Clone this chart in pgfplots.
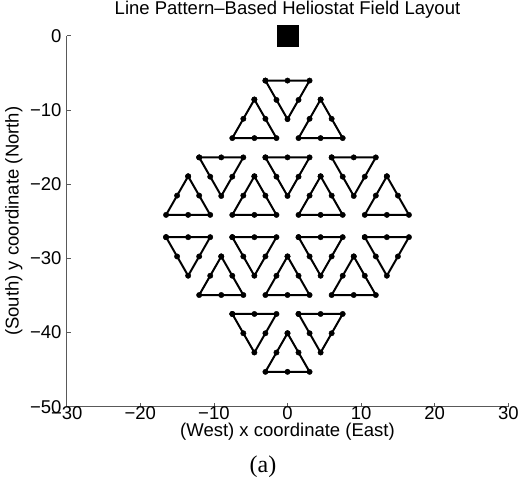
\documentclass[border=0pt]{standalone}
\usepackage{pgfplots}
\pgfplotsset{compat=1.18}
\usepackage{fontspec}
\setmainfont{Liberation Sans}
\newfontfamily\serifa{Liberation Serif}
\newcommand\lbl{\fontsize{18.5}{21}\selectfont}
\begin{document}
\begin{tikzpicture}
\useasboundingbox (-66.7pt,-75.3pt) rectangle (454.3pt,406.7pt);
\begin{axis}[
  scale only axis, width=441.6pt, height=371pt,
  xmin=-30, xmax=30, ymin=-50, ymax=0,
  clip=false,
  axis x line=bottom, axis y line=left,
  axis line style={-, draw=black!65, line width=0.6pt},
  every tick/.style={draw=black!65, line width=0.6pt},
  tick align=inside, major tick length=4pt,
  xtick={-30,-20,-10,0,10,20,30},
  xticklabels={−30,−20,−10,0,10,20,30},
  ytick={-50,-40,-30,-20,-10,0},
  yticklabels={−50,−40,−30,−20,−10,0},
  tick label style={font=\lbl},
  xticklabel style={anchor=base, yshift=-13pt, inner sep=0pt},
  yticklabel style={anchor=east, inner sep=0pt, xshift=-5pt},
  title={Line Pattern–Based Heliostat Field Layout},
  title style={font=\lbl, at={(axis description cs:0.5,1.0404)}, anchor=base, inner sep=0pt},
  xlabel={(West) x coordinate (East)},
  xlabel style={font=\lbl, at={(axis description cs:0.5,-0.0809)}, anchor=base, inner sep=0pt},
  ylabel={(South) y coordinate (North)},
  ylabel style={font=\lbl, at={(axis description cs:-0.0996,0.5)}, anchor=south, inner sep=0pt},
  tri/.style={black, solid, line width=2pt, mark=*, mark size=2.7pt, mark options={solid, fill=black, draw=black, line width=0.4pt}},
]
% receiver
\addplot[black, only marks, mark=square*, mark size=10.2pt, mark options={fill=black, line width=0.4pt}] coordinates {(0,0)};
% Row A (inverted)
\addplot[tri] coordinates {(-3,-6.05) (0,-6.05) (3,-6.05) (1.5,-8.65) (0,-11.25) (-1.5,-8.65) (-3,-6.05)};
% Row B (upward)
\addplot[tri] coordinates {(-4.5,-8.6) (-3,-11.2) (-1.5,-13.8) (-4.5,-13.8) (-7.5,-13.8) (-6,-11.2) (-4.5,-8.6)};
\addplot[tri] coordinates {(4.5,-8.6) (6,-11.2) (7.5,-13.8) (4.5,-13.8) (1.5,-13.8) (3,-11.2) (4.5,-8.6)};
% Row C (inverted)
\addplot[tri] coordinates {(-12,-16.4) (-9,-16.4) (-6,-16.4) (-7.5,-19.0) (-9,-21.6) (-10.5,-19.0) (-12,-16.4)};
\addplot[tri] coordinates {(-3,-16.4) (0,-16.4) (3,-16.4) (1.5,-19.0) (0,-21.6) (-1.5,-19.0) (-3,-16.4)};
\addplot[tri] coordinates {(6,-16.4) (9,-16.4) (12,-16.4) (10.5,-19.0) (9,-21.6) (7.5,-19.0) (6,-16.4)};
% Row D (upward)
\addplot[tri] coordinates {(-13.5,-18.95) (-12,-21.55) (-10.5,-24.15) (-13.5,-24.15) (-16.5,-24.15) (-15,-21.55) (-13.5,-18.95)};
\addplot[tri] coordinates {(-4.5,-18.95) (-3,-21.55) (-1.5,-24.15) (-4.5,-24.15) (-7.5,-24.15) (-6,-21.55) (-4.5,-18.95)};
\addplot[tri] coordinates {(4.5,-18.95) (6,-21.55) (7.5,-24.15) (4.5,-24.15) (1.5,-24.15) (3,-21.55) (4.5,-18.95)};
\addplot[tri] coordinates {(13.5,-18.95) (15,-21.55) (16.5,-24.15) (13.5,-24.15) (10.5,-24.15) (12,-21.55) (13.5,-18.95)};
% Row E (inverted)
\addplot[tri] coordinates {(-16.5,-27.15) (-13.5,-27.15) (-10.5,-27.15) (-12,-29.75) (-13.5,-32.35) (-15,-29.75) (-16.5,-27.15)};
\addplot[tri] coordinates {(-7.5,-27.15) (-4.5,-27.15) (-1.5,-27.15) (-3,-29.75) (-4.5,-32.35) (-6,-29.75) (-7.5,-27.15)};
\addplot[tri] coordinates {(1.5,-27.15) (4.5,-27.15) (7.5,-27.15) (6,-29.75) (4.5,-32.35) (3,-29.75) (1.5,-27.15)};
\addplot[tri] coordinates {(10.5,-27.15) (13.5,-27.15) (16.5,-27.15) (15,-29.75) (13.5,-32.35) (12,-29.75) (10.5,-27.15)};
% Row F (upward)
\addplot[tri] coordinates {(-9,-29.75) (-7.5,-32.35) (-6,-34.95) (-9,-34.95) (-12,-34.95) (-10.5,-32.35) (-9,-29.75)};
\addplot[tri] coordinates {(0,-29.75) (1.5,-32.35) (3,-34.95) (0,-34.95) (-3,-34.95) (-1.5,-32.35) (0,-29.75)};
\addplot[tri] coordinates {(9,-29.75) (10.5,-32.35) (12,-34.95) (9,-34.95) (6,-34.95) (7.5,-32.35) (9,-29.75)};
% Row G (inverted)
\addplot[tri] coordinates {(-7.5,-37.5) (-4.5,-37.5) (-1.5,-37.5) (-3,-40.1) (-4.5,-42.7) (-6,-40.1) (-7.5,-37.5)};
\addplot[tri] coordinates {(1.5,-37.5) (4.5,-37.5) (7.5,-37.5) (6,-40.1) (4.5,-42.7) (3,-40.1) (1.5,-37.5)};
% Row H (upward)
\addplot[tri] coordinates {(0,-40.1) (1.5,-42.7) (3,-45.3) (0,-45.3) (-3,-45.3) (-1.5,-42.7) (0,-40.1)};
\end{axis}
\node[anchor=base, inner sep=0pt, font=\serifa\fontsize{24}{26}\selectfont] at (196.3pt,-65.3pt) {(a)};
\end{tikzpicture}
\end{document}
